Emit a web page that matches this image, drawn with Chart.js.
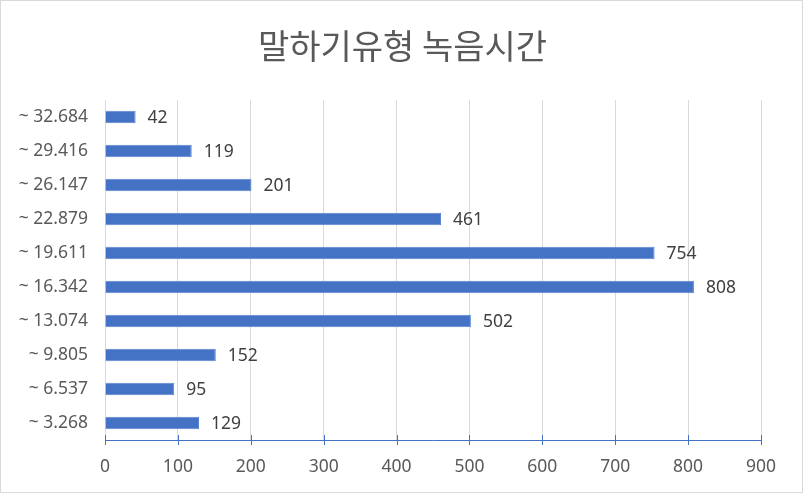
<!DOCTYPE html>
<html>
<head>
<meta charset="utf-8">
<script src="https://cdn.jsdelivr.net/npm/chart.js@4"></script>
<style>
    html, body { margin: 0; padding: 0; background: #fff; }
    .frame {
        width: 803px; height: 493px; box-sizing: border-box;
        border: 1px solid #d9d9d9; background: #fff;
    }
    canvas { display: block; }
</style>
</head>
<body>
<div class="frame"><canvas id="chart" width="801" height="491"></canvas></div>
<script>
const title = "말하기유형 녹음시간";
const categories = ["~ 3.268", "~ 6.537", "~ 9.805", "~ 13.074", "~ 16.342",
    "~ 19.611", "~ 22.879", "~ 26.147", "~ 29.416", "~ 32.684"];
const counts = [129, 95, 152, 502, 808, 754, 461, 201, 119, 42];
const xMax = 900;
const xStep = 100;

const BLUE = "#4472C4";
const TEXT = "#595959";
const FONT = '"Noto Sans", "Open Sans", sans-serif';

// title centred on the whole canvas (the built-in one centres on the padded box)
const centredTitle = {
    id: "centredTitle",
    afterDraw(chart) {
        const ctx = chart.ctx;
        ctx.save();
        ctx.font = '34px "Noto Sans CJK KR", sans-serif';
        ctx.fillStyle = TEXT;
        ctx.textAlign = "center";
        ctx.textBaseline = "middle";
        ctx.fillText(title, chart.width / 2 + 1, 45);
        ctx.restore();
    },
};

// value labels at bar ends
const barLabels = {
    id: "barLabels",
    afterDatasetsDraw(chart) {
        const ctx = chart.ctx;
        const meta = chart.getDatasetMeta(0);
        ctx.save();
        ctx.font = "17.5px " + FONT;
        ctx.fillStyle = "#404040";
        ctx.textAlign = "left";
        ctx.textBaseline = "middle";
        meta.data.forEach((bar, i) => {
            ctx.fillText(String(counts[i]), bar.x + 12, bar.y + 1);
        });
        ctx.restore();
    },
};

// blue tick marks crossing the x axis line
const axisTicks = {
    id: "axisTicks",
    afterDraw(chart) {
        const ctx = chart.ctx;
        const xs = chart.scales.x;
        const y = chart.chartArea.bottom;
        ctx.save();
        ctx.strokeStyle = BLUE;
        ctx.lineWidth = 1;
        xs.ticks.forEach((t) => {
            const x = Math.round(xs.getPixelForValue(t.value)) + 0.5;
            ctx.beginPath();
            ctx.moveTo(x, y - 5);
            ctx.lineTo(x, y + 5);
            ctx.stroke();
        });
        ctx.restore();
    },
};

new Chart(document.getElementById("chart"), {
    type: "bar",
    data: {
        labels: categories,
        datasets: [{
            data: counts,
            backgroundColor: BLUE,
            borderColor: "#5b86d0",
            borderWidth: 1,
            barPercentage: 0.37,
            categoryPercentage: 1,
        }],
    },
    options: {
        indexAxis: "y",
        responsive: false,
        animation: false,
        layout: { padding: { left: 0, right: 41, bottom: 7, top: 99 } },
        plugins: {
            legend: { display: false },
            tooltip: { enabled: false },
            title: { display: false },
        },
        scales: {
            x: {
                min: 0,
                max: xMax,
                ticks: {
                    stepSize: xStep,
                    color: TEXT,
                    padding: 17,
                    font: { family: FONT, size: 17.5 },
                },
                grid: { color: "#d9d9d9", drawTicks: false },
                border: { color: BLUE, width: 1 },
                afterFit: (s) => { s.height = 45; },
            },
            y: {
                reverse: true,
                ticks: {
                    color: TEXT,
                    padding: 17,
                    font: { family: FONT, size: 17.5 },
                },
                grid: { display: false, drawTicks: false },
                border: { display: false },
                afterFit: (s) => { s.width = 104; },
            },
        },
    },
    plugins: [centredTitle, barLabels, axisTicks],
});
</script>
</body>
</html>
